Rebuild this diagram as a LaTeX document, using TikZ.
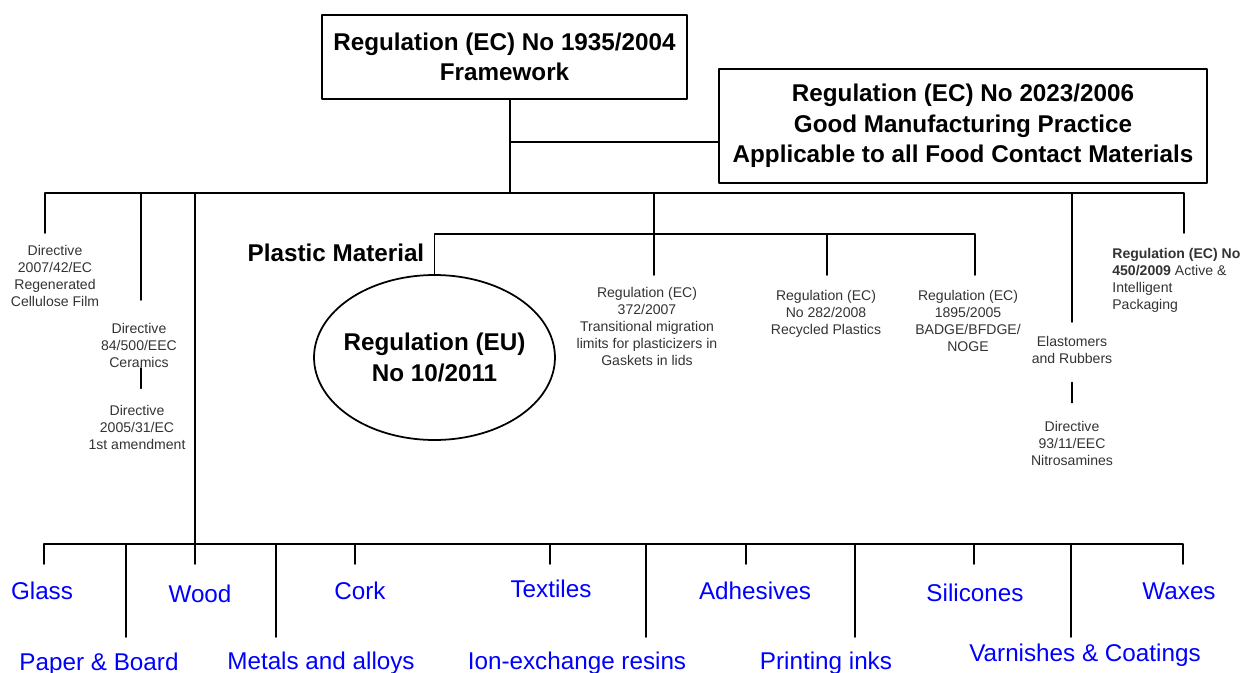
\documentclass[tikz,border=0pt]{standalone}
\usepackage{fontspec}
\setmainfont{Liberation Sans}
\usetikzlibrary{shapes.geometric}
\definecolor{matblue}{rgb}{0,0,1}
\definecolor{notegray}{rgb}{0.2,0.2,0.2}
\tikzset{
  regbox/.style={draw, line width=1.1pt, font=\bfseries\fontsize{13.8}{17.3}\selectfont, align=center, inner sep=0pt},
  note/.style={font=\fontsize{8}{9.7}\selectfont, text=notegray, align=center, inner sep=0pt, anchor=north},
  mat/.style={font=\fontsize{13.8}{16}\selectfont, text=matblue, inner sep=0pt, anchor=base},
  link/.style={line width=1pt}
}
\begin{document}
\begin{tikzpicture}[line cap=round,line join=round,x=0.02cm,y=-0.02cm]
    \useasboundingbox (0,0) rectangle (1242,673);
    % regulations on top
    \node[regbox, minimum width=7.3cm, minimum height=1.68cm] (fw) at (504.5,57) {Regulation (EC) No 1935/2004\\Framework};
    \node[regbox, minimum width=9.76cm, minimum height=2.28cm] (gmp) at (963,126) {Regulation (EC) No 2023/2006\\Good Manufacturing Practice\\Applicable to all Food Contact Materials};
    \coordinate (hub) at (510,193);
    \coordinate (gmplink) at (510,142);
    \draw[link] (hub |- fw.south) -- (hub);
    \draw[link] (gmplink) -- (gmplink -| gmp.west);
    % plastics
    \node[font=\bfseries\fontsize{13.8}{16}\selectfont, inner sep=0pt] (plastic) at (336,253) {Plastic Material};
    \node[ellipse, draw, line width=1pt, minimum width=4.82cm, minimum height=3.3cm, inner sep=-4pt,
      font=\bfseries\fontsize{13.8}{17.6}\selectfont, align=center] (eu) at (434.5,357.5) {Regulation (EU)\\No 10/2011};
    % notes
    \node[note] (d2007) at (55,245) {Directive\\2007/42/EC\\Regenerated\\Cellulose Film};
    \node[note] (d84) at (139,323) {Directive\\84/500/EEC\\Ceramics};
    \node[note] (d2005) at (137,405) {Directive\\2005/31/EC\\1st amendment};
    \node[note] (r372) at (647,287) {Regulation (EC)\\372/2007\\Transitional migration\\limits for plasticizers in\\Gaskets in lids};
    \node[note] (r282) at (826,290) {Regulation (EC)\\No 282/2008\\Recycled Plastics};
    \node[note] (r1895) at (968,290) {Regulation (EC)\\1895/2005\\BADGE/BFDGE/\\NOGE};
    \node[note] (elast) at (1072,336) {Elastomers\\and Rubbers};
    \node[note] (d93) at (1072,421) {Directive\\93/11/EEC\\Nitrosamines};
    \node[note, anchor=north west, align=left] (r450) at (1112,248) {\textbf{Regulation (EC) No}\\\textbf{450/2009} Active \&\\Intelligent\\Packaging};
    % main bar
    \coordinate (barL) at (45,193);
    \coordinate (t2007) at (45,233);
    \coordinate (t84) at (141,300);
    \coordinate (t372) at (654,275);
    \coordinate (tel) at (1072,322);
    \coordinate (t450) at (1184,233);
    \draw[link] (t2007) -- (barL) -- (barL -| t450) -- (t450);
    \foreach \t in {t84,t372,tel}
    \draw[link] (\t |- barL) -- (\t);
    \draw[link, shorten >=9.5pt] (d84.south -| t84) -- (d2005.north -| t84);
    \draw[link, shorten <=10.5pt, shorten >=10.5pt] (elast.south) -- (d93.north);
    % plastic bar
    \coordinate (pbar) at (654,234);
    \coordinate (t282) at (827,275);
    \coordinate (t1895) at (975,275);
    \draw[link] (eu.north) -- (eu.north |- pbar) -- (pbar -| t1895) -- (t1895);
    \draw[link] (t282 |- pbar) -- (t282);
    % materials
    \node[mat] (glass) at (42,599) {Glass};
    \node[mat] (paper) at (99,670) {Paper \& Board};
    \node[mat] (wood) at (200,602) {Wood};
    \node[mat] (metal) at (321,669) {Metals and alloys};
    \node[mat] (cork) at (360,599) {Cork};
    \node[mat] (textile) at (551,597) {Textiles};
    \node[mat] (ion) at (577,669) {Ion-exchange resins};
    \node[mat] (adhes) at (755,599) {Adhesives};
    \node[mat] (print) at (826,669) {Printing inks};
    \node[mat] (silic) at (975,601) {Silicones};
    \node[mat] (varn) at (1085,661) {Varnishes \& Coatings};
    \node[mat] (wax) at (1179,599) {Waxes};
    % lower bar
    \coordinate (lowL) at (44,544);
    \coordinate (tglass) at (44,564);
    \coordinate (twood) at (195,564);
    \coordinate (twax) at (1183,564);
    \coordinate (tpaper) at (126,637);
    \coordinate (tmetal) at (276,637);
    \coordinate (tcork) at (355,564);
    \coordinate (ttext) at (550,564);
    \coordinate (tion) at (646,637);
    \coordinate (tadh) at (746,564);
    \coordinate (tprint) at (855,637);
    \coordinate (tsil) at (974,564);
    \coordinate (tvarn) at (1071,637);
    \draw[link] (twood |- barL) -- (twood);
    \draw[link] (tglass) -- (lowL) -- (lowL -| twax) -- (twax);
    \foreach \t in {tpaper,tmetal,tcork,ttext,tion,tadh,tprint,tsil,tvarn}
    \draw[link] (\t |- lowL) -- (\t);
\end{tikzpicture}
\end{document}
